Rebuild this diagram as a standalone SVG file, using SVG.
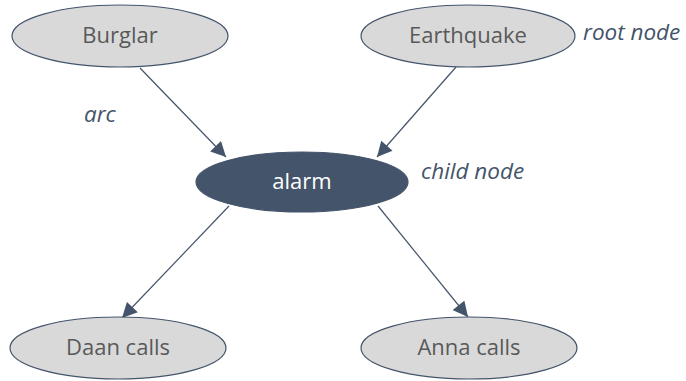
<svg xmlns="http://www.w3.org/2000/svg" width="686" height="381" viewBox="0 0 686 381">
<style>
.n ellipse{fill:#D9D9D9;stroke:#44546A;stroke-width:1.2}
.n text{font-family:"Open Sans","Liberation Sans",sans-serif;font-size:22px;fill:#595959;text-anchor:middle}
#alarm ellipse{fill:#44546A}
#alarm text{fill:#FFFFFF}
.lbl{font-family:"Open Sans","Liberation Sans",sans-serif;font-size:22.5px;font-style:italic;fill:#44546A}
.c line{stroke:#44546A;stroke-width:1.2;marker-end:url(#ah)}
</style>
<defs>
<marker id="ah" viewBox="0 0 10 10" refX="10" refY="5" markerWidth="16" markerHeight="15" markerUnits="userSpaceOnUse" orient="auto">
<path d="M0,0 L10,5 L0,10 z" fill="#44546A"/>
</marker>
</defs>
<g class="c">
<line x1="140" y1="68" x2="226" y2="157"/>
<line x1="456" y1="67" x2="377" y2="157"/>
<line x1="229" y1="206" x2="122" y2="318"/>
<line x1="378" y1="206" x2="468" y2="317"/>
</g>
<g id="burglar" class="n"><ellipse cx="120" cy="36" rx="108" ry="31"/><text x="120" y="43">Burglar</text></g>
<g id="earthquake" class="n"><ellipse cx="468" cy="36" rx="107" ry="31"/><text x="468" y="43">Earthquake</text></g>
<g id="alarm" class="n"><ellipse cx="302" cy="182" rx="106" ry="30"/><text x="302" y="189">alarm</text></g>
<g id="daan" class="n"><ellipse cx="118" cy="348" rx="108" ry="31"/><text x="118" y="355">Daan calls</text></g>
<g id="anna" class="n"><ellipse cx="469" cy="348" rx="108" ry="31"/><text x="469" y="355">Anna calls</text></g>
<text class="lbl" x="84" y="122">arc</text>
<text class="lbl" x="421" y="179">child node</text>
<text class="lbl" x="583" y="40">root node</text>
</svg>
